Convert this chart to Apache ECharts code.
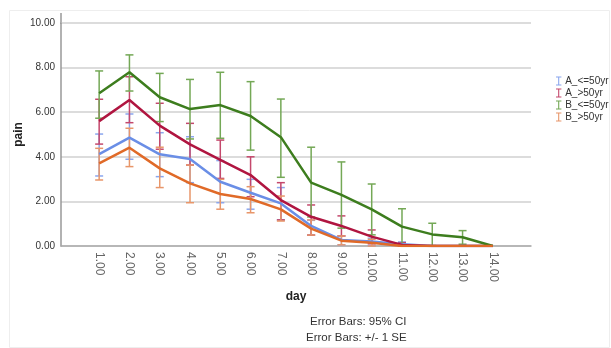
<!DOCTYPE html>
<html>
<head>
<meta charset="utf-8">
<script src="https://cdn.jsdelivr.net/npm/echarts@6/dist/echarts.min.js"></script>
<style>
  html, body { margin: 0; padding: 0; background: #fff; }
  #main { width: 611px; height: 348px; }
</style>
</head>
<body>
<div id="main"></div>
<script>
const days = [1, 2, 3, 4, 5, 6, 7, 8, 9, 10, 11, 12, 13, 14]
const groupNames = ['A_<=50yr', 'A_>50yr', 'B_<=50yr', 'B_>50yr']

// mean pain per day, with error bar ends
const aYoungMean = [4.12, 4.86, 4.11, 3.90, 2.88, 2.39, 1.91, 0.90, 0.27, 0.20, 0.08, 0, 0, 0]
const aYoungLow = [3.14, 3.89, 3.11, 2.84, 1.94, 1.65, 1.17, 0.49, 0.05, 0.02, 0, 0, 0, 0]
const aYoungHigh = [5.02, 5.92, 5.08, 4.90, 3.83, 2.99, 2.62, 1.15, 0.45, 0.35, 0.18, 0, 0, 0]

const aOldMean = [5.60, 6.55, 5.40, 4.56, 3.86, 3.18, 2.06, 1.31, 0.90, 0.42, 0.05, 0, 0, 0]
const aOldLow = [4.57, 5.53, 4.34, 3.63, 3.03, 2.21, 1.17, 0.49, 0.45, 0.10, 0, 0, 0, 0]
const aOldHigh = [6.58, 7.59, 6.40, 5.50, 4.75, 4.00, 2.84, 1.84, 1.35, 0.72, 0.15, 0, 0, 0]

const bYoungMean = [6.85, 7.79, 6.67, 6.14, 6.32, 5.83, 4.88, 2.84, 2.29, 1.64, 0.87, 0.52, 0.39, 0]
const bYoungLow = [5.73, 6.95, 5.58, 4.80, 4.83, 4.30, 3.08, 1.30, 0.80, 0.50, 0.07, 0.02, 0.08, 0]
const bYoungHigh = [7.85, 8.57, 7.74, 7.47, 7.79, 7.37, 6.59, 4.43, 3.77, 2.78, 1.67, 1.02, 0.69, 0]

const bOldMean = [3.71, 4.41, 3.48, 2.81, 2.33, 2.11, 1.64, 0.78, 0.24, 0.15, 0, 0, 0, 0]
const bOldLow = [2.96, 3.56, 2.62, 1.94, 1.65, 1.49, 1.12, 0.49, 0.05, 0, 0, 0, 0, 0]
const bOldHigh = [4.38, 5.28, 4.43, 3.63, 2.99, 2.66, 2.24, 1.17, 0.45, 0.30, 0, 0, 0, 0]

const lineColors = ['#6a8ee6', '#b01540', '#3d7d1e', '#e06a28']
const barColors = ['#8aa6ee', '#c4486c', '#74a856', '#e8966a']

const means = [aYoungMean, aOldMean, bYoungMean, bOldMean]
const lows = [aYoungLow, aOldLow, bYoungLow, bOldLow]
const highs = [aYoungHigh, aOldHigh, bYoungHigh, bOldHigh]

const chart = echarts.init(document.getElementById('main'))

const errItem = (params, api) => {
  const x = api.value(0)
  const lo = api.value(1)
  const hi = api.value(2)
  if (hi - lo < 0.01) return
  const top = api.coord([x, hi])
  const bot = api.coord([x, lo])
  const c = api.visual('color')
  const w = 4
  const st = {stroke: c, lineWidth: 1.5}
  return {
    type: 'group',
    children: [
      {type: 'line', shape: {x1: top[0], y1: top[1], x2: bot[0], y2: bot[1]}, style: st},
      {type: 'line', shape: {x1: top[0] - w, y1: top[1], x2: top[0] + w, y2: top[1]}, style: st},
      {type: 'line', shape: {x1: bot[0] - w, y1: bot[1], x2: bot[0] + w, y2: bot[1]}, style: st}
    ]
  }
}

const series = []
groupNames.forEach((name, i) => {
  series.push({
    type: 'custom',
    name: name + ' err',
    renderItem: errItem,
    itemStyle: {color: barColors[i]},
    data: days.map((d, k) => [d, lows[i][k], highs[i][k]]),
    z: 2,
    silent: true
  })
})
groupNames.forEach((name, i) => {
  series.push({
    type: 'line',
    name: name,
    data: days.map((d, k) => [d, means[i][k]]),
    showSymbol: false,
    lineStyle: {color: lineColors[i], width: 2.5},
    itemStyle: {color: barColors[i]},
    z: 3
  })
})

const font = 'Liberation Sans, Arial, sans-serif'

chart.setOption({
  animation: false,
  textStyle: {fontFamily: font},
  grid: {left: 61, right: 80, top: 23, bottom: 102},
  legend: {
    data: groupNames,
    orient: 'vertical',
    left: 551,
    top: 71,
    itemWidth: 7,
    itemHeight: 9,
    itemGap: 2,
    icon: 'path://M0,0H6V1H3.6V9H6V10H0V9H2.4V1H0Z',
    textStyle: {fontSize: 10, color: '#333', padding: [0, 0, 0, -2]}
  },
  xAxis: {
    type: 'value',
    min: -0.26,
    max: 15.26,
    name: 'day',
    nameLocation: 'middle',
    nameGap: 45,
    nameTextStyle: {fontSize: 12, fontWeight: 'bold', color: '#222'},
    axisLine: {onZero: false, lineStyle: {color: '#aaa', width: 1.5}},
    axisTick: {show: false},
    splitLine: {show: false},
    axisLabel: {
      customValues: days,
      rotate: -90,
      fontSize: 12,
      color: '#666',
      margin: 6,
      formatter: v => v.toFixed(2)
    }
  },
  yAxis: {
    type: 'value',
    min: 0,
    max: 10,
    interval: 2,
    name: 'pain',
    nameLocation: 'middle',
    nameGap: 36,
    nameMoveOverlap: false,
    nameTextStyle: {fontSize: 12, fontWeight: 'bold', color: '#222'},
    axisLine: {show: true, onZero: false, lineStyle: {color: '#999', width: 1.5}},
    axisTick: {show: false},
    splitLine: {lineStyle: {color: '#d0d0d0', width: 1.5}},
    axisLabel: {fontSize: 10, color: '#333', margin: 6, formatter: v => v.toFixed(2)}
  },
  graphic: [
    {type: 'rect', left: 7, top: 8, shape: {width: 600, height: 337}, style: {fill: 'none', stroke: '#eeeeee'}, z: -1},
    {type: 'line', shape: {x1: 61, y1: 13, x2: 61, y2: 24}, style: {stroke: '#999', lineWidth: 1.5}},
    {type: 'text', left: 310, top: 316, style: {text: 'Error Bars: 95% CI', fontSize: 11.5, fill: '#333', fontFamily: font}},
    {type: 'text', left: 306, top: 332, style: {text: 'Error Bars: +/- 1 SE', fontSize: 11.5, fill: '#333', fontFamily: font}}
  ],
  series: series
})
</script>
</body>
</html>
